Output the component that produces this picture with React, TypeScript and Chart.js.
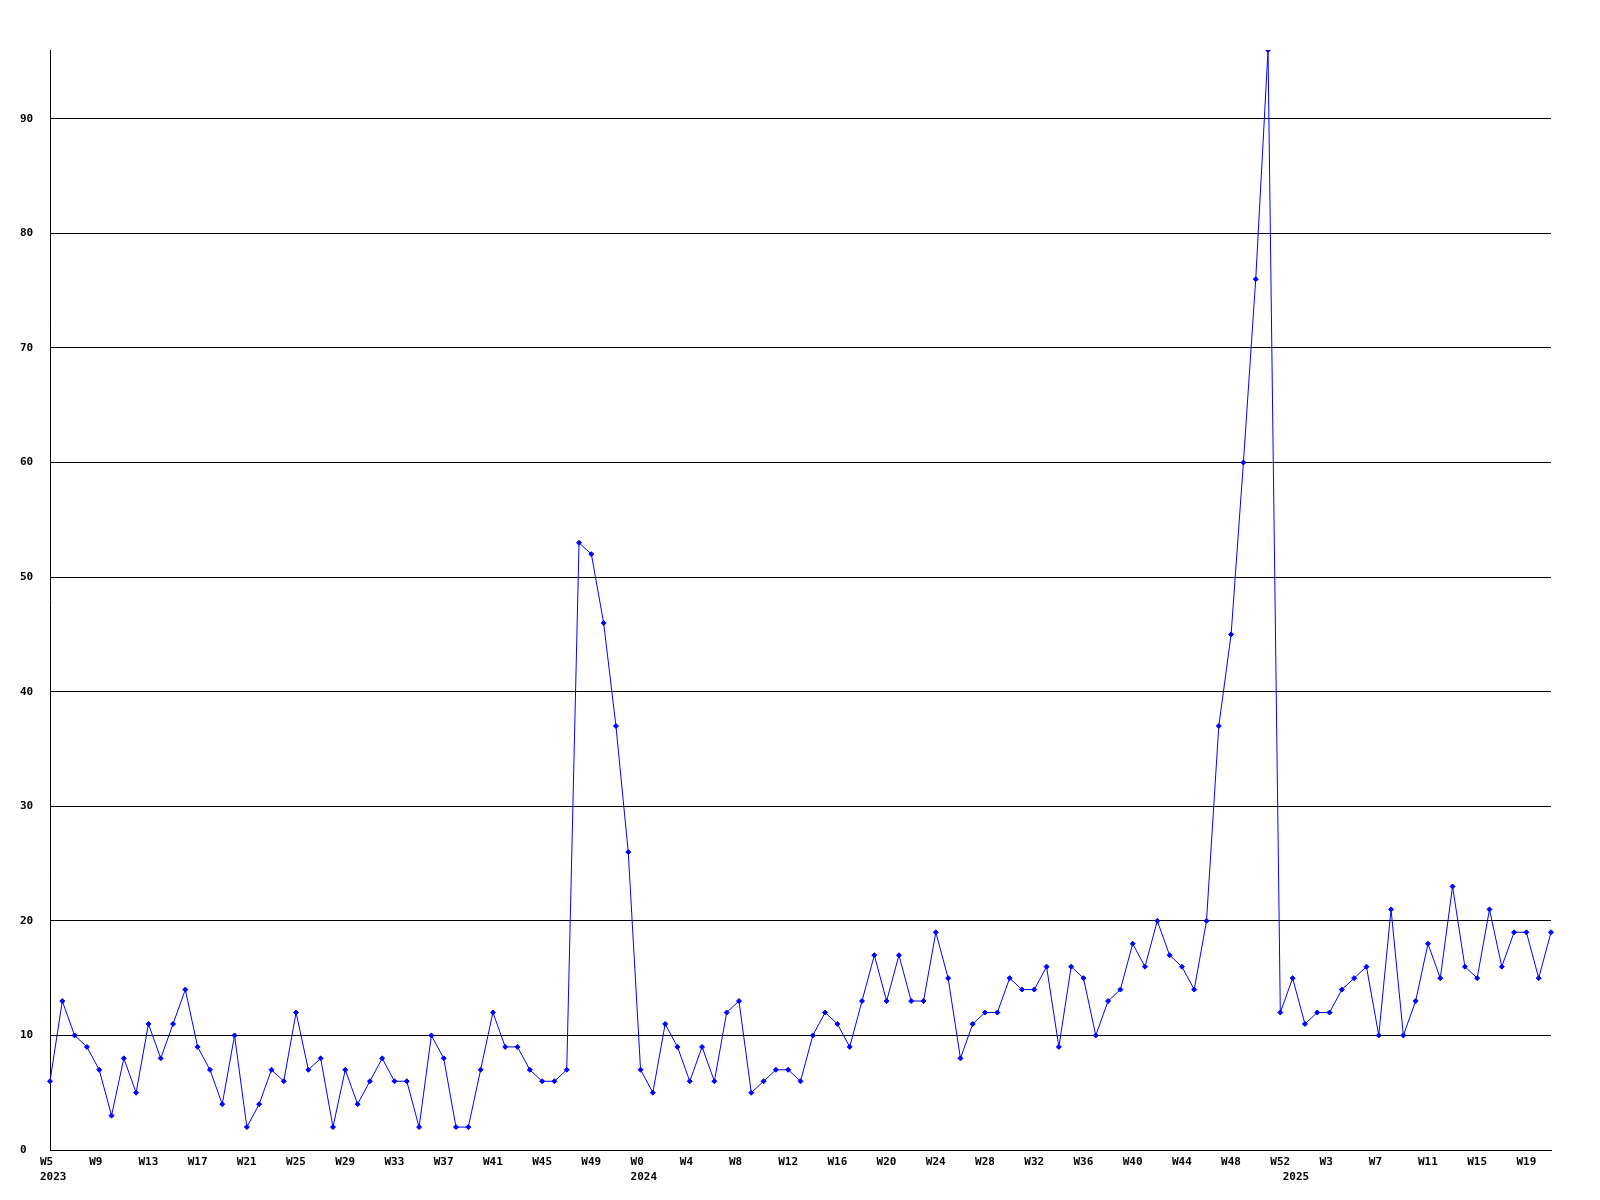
import React, { useEffect, useRef } from "react";
import { Chart, registerables } from "chart.js";

Chart.register(...registerables);

// Years shown and first week number of each year in the series
const years = ["2023", "2024", "2025"];
const startWeeks = [5, 0, 0];

// Weekly values per year
const values2023 = [
  6, 13, 10, 9, 7, 3, 8, 5, 11, 8, 11, 14, 9, 7, 4, 10, 2, 4, 7, 6, 12, 7, 8, 2,
  7, 4, 6, 8, 6, 6, 2, 10, 8, 2, 2, 7, 12, 9, 9, 7, 6, 6, 7, 53, 52, 46, 37, 26,
];
const values2024 = [
  7, 5, 11, 9, 6, 9, 6, 12, 13, 5, 6, 7, 7, 6, 10, 12, 11, 9, 13, 17, 13, 17, 13,
  13, 19, 15, 8, 11, 12, 12, 15, 14, 14, 16, 9, 16, 15, 10, 13, 14, 18, 16, 20,
  17, 16, 14, 20, 37, 45, 60, 76, 96, 12,
];
const values2025 = [
  15, 11, 12, 12, 14, 15, 16, 10, 21, 10, 13, 18, 15, 23, 16, 15, 21, 16, 19, 19,
  15, 19,
];

// Y axis tick values
const yTicks = [0, 10, 20, 30, 40, 50, 60, 70, 80, 90];
const yMax = 96;
const tickEvery = 4;

const seriesByYear = [values2023, values2024, values2025];

const categories: string[] = [];
const yearOfIndex: string[] = [];
const values: number[] = [];
seriesByYear.forEach((vals, yi) => {
  vals.forEach((v, i) => {
    categories.push("W" + (startWeeks[yi] + i));
    yearOfIndex.push(years[yi]);
    values.push(v);
  });
});

const FONT = { family: "'DejaVu Sans Mono', monospace", size: 11, weight: "bold" as const, lineHeight: 1.32 };

export default function App() {
  const ref = useRef<HTMLCanvasElement | null>(null);

  useEffect(() => {
    if (!ref.current) return;
    const chart = new Chart(ref.current, {
      type: "line",
      data: {
        labels: categories,
        datasets: [
          {
            data: values,
            borderColor: "#0000ff",
            backgroundColor: "#0000ff",
            borderWidth: 1,
            tension: 0,
            pointStyle: "rectRot",
            pointRadius: 2.5,
            pointBorderWidth: 1,
            pointBackgroundColor: "#0000ff",
            pointBorderColor: "#0000ff",
            fill: false,
          },
        ],
      },
      options: {
        animation: false,
        responsive: false,
        events: [],
        layout: { padding: { left: 20, right: 49, top: 50, bottom: 0 } },
        plugins: { legend: { display: false }, tooltip: { enabled: false } },
        scales: {
          x: {
            type: "category",
            offset: false,
            grid: { display: false, drawTicks: false },
            border: { display: true, color: "#000000", width: 1 },
            afterFit: (s: any) => {
              s.height = 50;
            },
            ticks: {
              autoSkip: false,
              maxRotation: 0,
              minRotation: 0,
              align: "start",
              labelOffset: -10,
              padding: 5,
              color: "#000000",
              font: FONT,
              callback: (_v: any, i: number) => {
                const isTick = i % tickEvery === 0;
                const isYearStart = i === 0 || yearOfIndex[i] !== yearOfIndex[i - 1];
                if (!isTick && !isYearStart) return null as any;
                const wk = isTick ? categories[i] : "";
                return isYearStart ? [wk, yearOfIndex[i]] : wk;
              },
            },
          },
          y: {
            type: "linear",
            min: 0,
            max: yMax,
            afterFit: (s: any) => {
              s.width = 30;
            },
            afterBuildTicks: (s: any) => {
              s.ticks = yTicks.map((v) => ({ value: v }));
            },
            grid: { color: "#000000", lineWidth: 1, drawTicks: false },
            border: { display: true, color: "#000000", width: 1 },
            ticks: {
              crossAlign: "far",
              color: "#000000",
              font: FONT,
              padding: 0,
            },
          },
        },
      },
    });
    return () => chart.destroy();
  }, []);

  return (
    <div style={{ position: "absolute", left: 0, top: 0, width: 1600, height: 1200, background: "#ffffff" }}>
      <canvas ref={ref} width={1600} height={1200} />
    </div>
  );
}
